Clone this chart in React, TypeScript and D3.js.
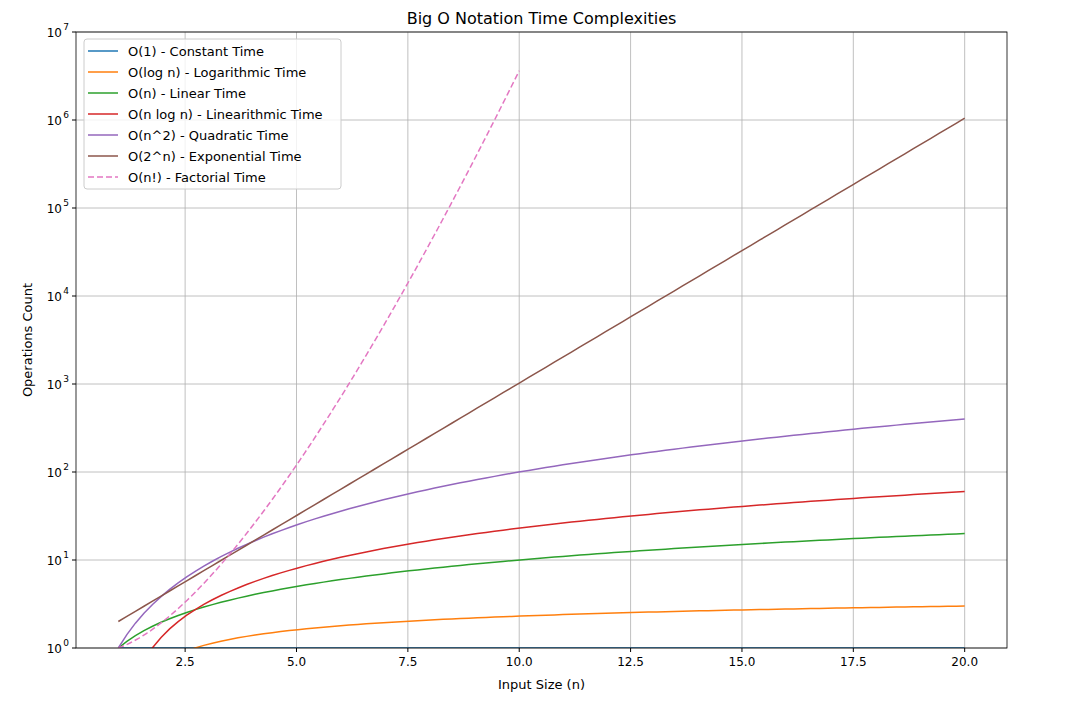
import * as d3 from "d3";
import { useEffect, useRef } from "react";

const W = 1083, H = 706;
const M = { left: 76, right: 1007, top: 32, bottom: 648 };

// n values (np.linspace(1, 20, 100)) and (np.linspace(1, 10, 100)) for factorial
const nAll = d3.range(100).map((i) => 1 + (19 * i) / 99);
const nFact = d3.range(100).map((i) => 1 + (9 * i) / 99);

const xTicks = [2.5, 5.0, 7.5, 10.0, 12.5, 15.0, 17.5, 20.0];
const yExps = [0, 1, 2, 3, 4, 5, 6, 7];

function gamma(z: number): number {
  const g = 7;
  const c = [0.99999999999980993, 676.5203681218851, -1259.1392167224028, 771.32342877765313,
    -176.61502916214059, 12.507343278686905, -0.13857109526572012, 9.9843695780195716e-6, 1.5056327351493116e-7];
  z -= 1;
  let x = c[0];
  for (let i = 1; i < g + 2; i++) x += c[i] / (z + i);
  const t = z + g + 0.5;
  return Math.sqrt(2 * Math.PI) * Math.pow(t, z + 0.5) * Math.exp(-t) * x;
}

const series = [
  { label: "O(1) - Constant Time", color: "#1f77b4", ns: nAll, f: (_n: number) => 1, dash: "" },
  { label: "O(log n) - Logarithmic Time", color: "#ff7f0e", ns: nAll, f: (n: number) => Math.log(n), dash: "" },
  { label: "O(n) - Linear Time", color: "#2ca02c", ns: nAll, f: (n: number) => n, dash: "" },
  { label: "O(n log n) - Linearithmic Time", color: "#d62728", ns: nAll, f: (n: number) => n * Math.log(n), dash: "" },
  { label: "O(n^2) - Quadratic Time", color: "#9467bd", ns: nAll, f: (n: number) => n * n, dash: "" },
  { label: "O(2^n) - Exponential Time", color: "#8c564b", ns: nAll, f: (n: number) => Math.pow(2, n), dash: "" },
  { label: "O(n!) - Factorial Time", color: "#e377c2", ns: nFact, f: (n: number) => gamma(n + 1), dash: "6,3" },
];

export default function App() {
  const ref = useRef<SVGSVGElement | null>(null);
  useEffect(() => {
    const svg = d3.select(ref.current);
    svg.selectAll("*").remove();
    const font = "DejaVu Sans, sans-serif";
    const x = d3.scaleLinear().domain([0.05, 20.95]).range([M.left, M.right]);
    const y = d3.scaleLog().domain([1, 1e7]).range([M.bottom, M.top]);

    svg.append("rect").attr("width", W).attr("height", H).attr("fill", "white");
    svg.append("clipPath").attr("id", "clip").append("rect")
      .attr("x", M.left).attr("y", M.top).attr("width", M.right - M.left).attr("height", M.bottom - M.top);

    const grid = svg.append("g").attr("stroke", "#b0b0b0").attr("stroke-width", 0.8);
    xTicks.forEach((t) => grid.append("line").attr("x1", x(t)).attr("x2", x(t)).attr("y1", M.top).attr("y2", M.bottom));
    yExps.forEach((e) => grid.append("line").attr("x1", M.left).attr("x2", M.right).attr("y1", y(10 ** e)).attr("y2", y(10 ** e)));

    const plot = svg.append("g").attr("clip-path", "url(#clip)");
    series.forEach((s) => {
      const pts = s.ns.map((n) => [n, s.f(n)] as [number, number]);
      const line = d3.line<[number, number]>()
        .x((d) => x(d[0]))
        .y((d) => (d[1] <= 0 ? M.bottom + 1000 : y(d[1])));
      plot.append("path").attr("d", line(pts)).attr("fill", "none").attr("stroke", s.color)
        .attr("stroke-width", 1.5).attr("stroke-dasharray", s.dash);
    });

    svg.append("rect").attr("x", M.left).attr("y", M.top).attr("width", M.right - M.left)
      .attr("height", M.bottom - M.top).attr("fill", "none").attr("stroke", "black").attr("stroke-width", 0.8);

    const ax = svg.append("g").attr("font-family", font).attr("font-size", 12);
    xTicks.forEach((t) => {
      ax.append("line").attr("x1", x(t)).attr("x2", x(t)).attr("y1", M.bottom).attr("y2", M.bottom + 4).attr("stroke", "black");
      ax.append("text").attr("x", x(t)).attr("y", M.bottom + 18).attr("text-anchor", "middle").text(t.toFixed(1));
    });
    yExps.forEach((e) => {
      ax.append("line").attr("x1", M.left - 4).attr("x2", M.left).attr("y1", y(10 ** e)).attr("y2", y(10 ** e)).attr("stroke", "black");
      const tx = ax.append("text").attr("x", M.left - 14).attr("y", y(10 ** e) + 5).attr("text-anchor", "end").text("10");
      ax.append("text").attr("x", M.left - 7).attr("y", y(10 ** e) - 2).attr("text-anchor", "end")
        .attr("font-size", 9).text(String(e));
      void tx;
    });
    ax.append("text").attr("x", (M.left + M.right) / 2).attr("y", 689).attr("text-anchor", "middle").attr("font-size", 13).text("Input Size (n)");
    ax.append("text").attr("transform", `translate(32,${(M.top + M.bottom) / 2}) rotate(-90)`)
      .attr("text-anchor", "middle").attr("font-size", 13).text("Operations Count");
    ax.append("text").attr("x", (M.left + M.right) / 2).attr("y", 24).attr("text-anchor", "middle").attr("font-size", 16).text("Big O Notation Time Complexities");

    const lg = svg.append("g").attr("font-family", font).attr("font-size", 13);
    lg.append("rect").attr("x", 84).attr("y", 39).attr("width", 257).attr("height", 150).attr("rx", 3)
      .attr("fill", "white").attr("fill-opacity", 0.8).attr("stroke", "#cccccc");
    series.forEach((s, i) => {
      const yy = 51 + i * 21;
      lg.append("line").attr("x1", 88).attr("x2", 118).attr("y1", yy).attr("y2", yy).attr("stroke", s.color)
        .attr("stroke-width", 1.5).attr("stroke-dasharray", s.dash);
      lg.append("text").attr("x", 128).attr("y", yy + 5).text(s.label);
    });
  }, []);
  return <svg ref={ref} width={W} height={H} style={{ position: "absolute", left: 0, top: 0 }} />;
}
